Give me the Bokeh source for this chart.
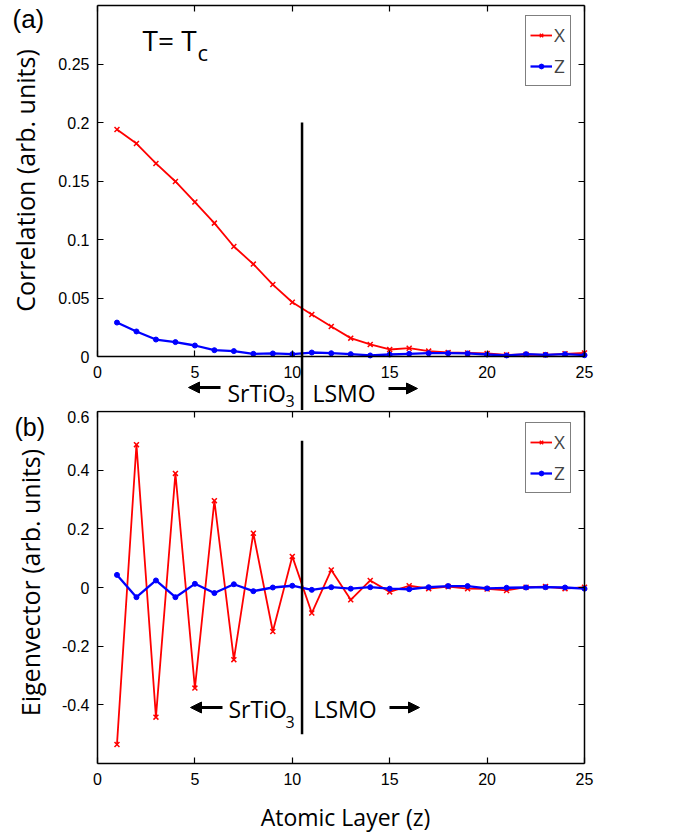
import math
from bokeh.plotting import figure
from bokeh.layouts import column
from bokeh.models import (Range1d, FixedTicker, LinearAxis, Label, Arrow, NormalHead,
                          Legend, LegendItem, CustomLabelingPolicy)
from bokeh.embed import file_html
from bokeh.resources import INLINE

# ---------------- data ----------------
layers = list(range(1, 26))

corr_x = [0.194, 0.182, 0.165, 0.1496, 0.132, 0.114, 0.094, 0.079, 0.0615, 0.0464,
          0.0359, 0.0256, 0.0157, 0.0103, 0.006, 0.0071, 0.0046, 0.0034, 0.003, 0.0026,
          0.0014, 0.0017, 0.0014, 0.0023, 0.003]
corr_z = [0.029, 0.0214, 0.0145, 0.0123, 0.0094, 0.0054, 0.0046, 0.0023, 0.0026, 0.002,
          0.0034, 0.0028, 0.002, 0.0009, 0.0017, 0.0023, 0.0028, 0.0028, 0.0026, 0.0017,
          0.0009, 0.002, 0.0014, 0.002, 0.0011]

eig_x = [-0.535, 0.487, -0.442, 0.389, -0.343, 0.296, -0.246, 0.185, -0.150, 0.106,
         -0.087, 0.060, -0.042, 0.024, -0.015, 0.006, -0.004, 0.003, -0.004, -0.005,
         -0.010, 0.001, 0.003, -0.004, 0.001]
eig_z = [0.043, -0.033, 0.024, -0.033, 0.0125, -0.019, 0.011, -0.0125, 0.0, 0.006,
         -0.008, 0.001, -0.004, 0.001, -0.004, -0.006, 0.001, 0.005, 0.005, -0.003,
         -0.001, 0.0, 0.001, 0.0, -0.004]

x_lim = (0, 25)
x_ticks = [0, 5, 10, 15, 20, 25]
corr_lim = (0, 0.3)
corr_ticks = [0, 0.05, 0.1, 0.15, 0.2, 0.25]
corr_tick_labels = ["0", "0.05", "0.1", "0.15", "0.2", "0.25"]
eig_lim = (-0.6, 0.6)
eig_ticks = [-0.4, -0.2, 0, 0.2, 0.4, 0.6]
eig_tick_labels = ["-0.4", "-0.2", "0", "0.2", "0.4", "0.6"]

interface_z = 10.5

RED = "#ff0000"
BLUE = "#0000ff"
TXT = "Open Sans"
NUM = "Liberation Sans"

W = 600                  # canvas width
BOX_L, BOX_R = 97, 584   # axes box inside canvas (px)


class Panel:
    """Whole canvas is the plot frame; axes are pinned at the data limits."""

    def __init__(self, H, page_top, box_top, box_bot, ylim, yticks, ylabels):
        self.off = page_top
        bt, bb = box_top - page_top, box_bot - page_top
        sx = (BOX_R - BOX_L) / (x_lim[1] - x_lim[0])
        sy = (bb - bt) / (ylim[1] - ylim[0])
        self.sx, self.sy, self.bb, self.ylim = sx, sy, bb, ylim
        xr = Range1d(x_lim[0] - BOX_L / sx, x_lim[0] + (W - BOX_L) / sx)
        yr = Range1d(ylim[0] - (H - bb) / sy, ylim[1] + bt / sy)
        p = figure(width=W, height=H, output_backend="svg", toolbar_location=None,
                   title=None, x_range=xr, y_range=yr, min_border=0,
                   min_border_left=0, min_border_right=0, min_border_top=0,
                   min_border_bottom=0, background_fill_color="white",
                   border_fill_color="white")
        p.outline_line_color = None
        p.grid.visible = False
        xa, ya = p.xaxis[0], p.yaxis[0]
        xa.ticker = FixedTicker(ticks=x_ticks)
        ya.ticker = FixedTicker(ticks=yticks)
        ya.major_label_overrides = {t: l for t, l in zip(yticks, ylabels)}
        xa.fixed_location = ylim[0]
        ya.fixed_location = x_lim[0]
        xa.bounds = x_lim
        ya.bounds = ylim
        top_ax = LinearAxis(ticker=FixedTicker(ticks=x_ticks), fixed_location=ylim[1],
                            bounds=x_lim,
                            major_label_policy=CustomLabelingPolicy(code="return []"))
        right_ax = LinearAxis(ticker=FixedTicker(ticks=yticks), fixed_location=x_lim[1],
                              bounds=ylim,
                              major_label_policy=CustomLabelingPolicy(code="return []"))
        p.add_layout(top_ax, "above")
        p.add_layout(right_ax, "right")
        for ax in (xa, ya, top_ax, right_ax):
            ax.major_tick_in = 6
            ax.major_tick_out = 0
            ax.minor_tick_in = 0
            ax.minor_tick_out = 0
            ax.axis_line_width = 1.5
            ax.axis_line_color = "black"
            ax.major_tick_line_width = 1.2
            ax.major_tick_line_color = "black"
            ax.major_label_text_font = NUM
            ax.major_label_text_font_size = "16px"
            ax.major_label_text_color = "black"
            ax.axis_label = None
        xa.major_label_standoff = 9
        ya.major_label_standoff = 8
        self.p = p

    # page-pixel helpers for annotation placement
    def dx(self, px):
        return x_lim[0] + (px - BOX_L) / self.sx

    def dy(self, py):
        return self.ylim[0] + (self.bb - (py - self.off)) / self.sy

    def label(self, px, py, text, font, size, align="left", angle=0):
        # py is the vertical centre of the text
        self.p.add_layout(Label(x=self.dx(px), y=self.dy(py), text=text, text_font=font,
                                text_font_size=size, text_align=align,
                                text_baseline="middle", angle=angle, text_color="black"))

    def arrow(self, tail, head, py):
        self.p.add_layout(Arrow(end=NormalHead(size=11, fill_color="black", line_color="black"),
                                x_start=self.dx(tail), x_end=self.dx(head),
                                y_start=self.dy(py), y_end=self.dy(py),
                                line_width=3, line_color="black"))

    def interface(self, y_top, y_bot):
        self.p.add_layout(Arrow(end=None, x_start=interface_z, x_end=interface_z,
                                y_start=y_top, y_end=y_bot, line_width=2.5,
                                line_color="black"))

    def series(self, xs_vals, zs_vals, loc):
        p = self.p
        lx = p.line(layers, xs_vals, line_color=RED, line_width=1.8)
        mx = p.scatter(layers, xs_vals, marker="x", size=7, line_color=RED, line_width=1.5)
        lz = p.line(layers, zs_vals, line_color=BLUE, line_width=2.3)
        mz = p.scatter(layers, zs_vals, marker="circle", size=5, line_color=BLUE,
                       fill_color=BLUE)
        leg = Legend(items=[LegendItem(label="X", renderers=[lx, mx]),
                            LegendItem(label="Z", renderers=[lz, mz])],
                     location=loc, padding=4, spacing=1,
                     glyph_width=22, glyph_height=12, label_height=30, label_width=12,
                     label_standoff=2, label_text_font=TXT, label_text_font_size="19px",
                     border_line_color="black", border_line_width=1.5,
                     background_fill_color="white", background_fill_alpha=1.0)
        p.add_layout(leg)


# ---------------- panel (a) : page y 0..410 ----------------
HA = 410
A = Panel(HA, 0, 5, 356, corr_lim, corr_ticks, corr_tick_labels)
A.series(corr_x, corr_z, (525, HA - 86))
A.interface(0.2, A.p.y_range.start)
A.arrow(220, 188, 387)
A.arrow(388, 417, 388)
A.label(227, 392, "SrTiO", TXT, "23px")
A.label(285, 400, "3", TXT, "16px")
A.label(312, 392, "LSMO", TXT, "23px")
A.label(142, 39, "T= T", TXT, "28px")
A.label(197, 51, "c", TXT, "22px")
A.label(12, 18, "(a)", NUM, "26px")
A.label(24, 180, "Correlation (arb. units)", TXT, "25px", align="center",
        angle=math.pi / 2)

# ---------------- panel (b) : page y 410..834 ----------------
HB = 424
B = Panel(HB, HA, 411, 763, eig_lim, eig_ticks, eig_tick_labels)
B.series(eig_x, eig_z, (525, HA + HB - 493))
B.interface(0.5, -0.5)
B.arrow(222, 190, 707)
B.arrow(389, 419, 707)
B.label(228, 708, "SrTiO", TXT, "23px")
B.label(285, 721, "3", TXT, "16px")
B.label(313, 708, "LSMO", TXT, "23px")
B.label(14, 426, "(b)", NUM, "25px")
B.label(29, 582, "Eigenvector (arb. units)", TXT, "25px", align="center",
        angle=math.pi / 2)
B.label(345, 816, "Atomic Layer (z)", TXT, "23px", align="center")

layout = column(A.p, B.p, spacing=0)
open("out.html", "w").write(file_html(layout, INLINE))
